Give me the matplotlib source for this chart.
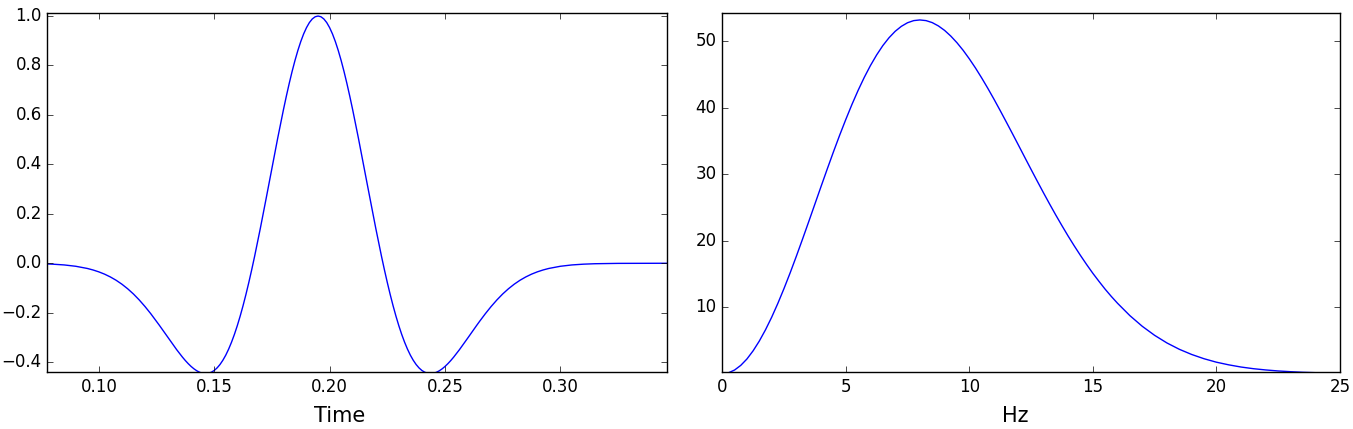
import matplotlib
matplotlib.use("Agg")
import matplotlib.pyplot as plt

plt.style.use("classic")

# wavelet amplitude against time (s)
time = [0.0777, 0.080, 0.085, 0.090, 0.095, 0.0975, 0.100, 0.1025, 0.105, 0.1075,
        0.110, 0.1125, 0.115, 0.1175, 0.120, 0.1225,
        0.12500, 0.12625, 0.12750, 0.12875, 0.13000, 0.13125, 0.13250, 0.13375,
        0.13500, 0.13625, 0.13750, 0.13875, 0.14000, 0.14125, 0.14250, 0.14375,
        0.14500, 0.14625, 0.14750, 0.14875, 0.15000, 0.15125, 0.15250, 0.15375,
        0.15500, 0.15625, 0.15750, 0.15875, 0.16000, 0.16125, 0.16250, 0.16375,
        0.16500, 0.16625, 0.16750, 0.16875, 0.17000, 0.17125, 0.17250, 0.17375,
        0.17500, 0.17625, 0.17750, 0.17875, 0.18000, 0.18125, 0.18250, 0.18375,
        0.18500, 0.18625, 0.18750, 0.18875, 0.19000, 0.19125, 0.19250, 0.19375,
        0.19500, 0.19625, 0.19750, 0.19875, 0.20000, 0.20125, 0.20250, 0.20375,
        0.20500, 0.20625, 0.20750, 0.20875, 0.21000, 0.21125, 0.21250, 0.21375,
        0.21500, 0.21625, 0.21750, 0.21875, 0.22000, 0.22125, 0.22250, 0.22375,
        0.22500, 0.22625, 0.22750, 0.22875, 0.23000, 0.23125, 0.23250, 0.23375,
        0.23500, 0.23625, 0.23750, 0.23875, 0.24000, 0.24125, 0.24250, 0.24375,
        0.24500, 0.24625, 0.24750, 0.24875, 0.25000, 0.25125, 0.25250, 0.25375,
        0.25500, 0.25625, 0.25750, 0.25875, 0.26000, 0.26125, 0.26250, 0.26375,
        0.26500,
        0.2675, 0.270, 0.2725, 0.275, 0.2775, 0.280, 0.2825, 0.285, 0.2875, 0.290,
        0.2925, 0.295, 0.300, 0.305, 0.310, 0.315, 0.325, 0.335, 0.3461]
amplitude = [-0.0028, -0.0037, -0.0068, -0.0122, -0.0210, -0.0272, -0.0348, -0.0441, -0.0554, -0.0688,
             -0.0847, -0.1032, -0.1243, -0.1483, -0.1749, -0.2039,
             -0.2350, -0.2511, -0.2675, -0.2841, -0.3008, -0.3173, -0.3336, -0.3497,
             -0.3651, -0.3798, -0.3936, -0.4062, -0.4175, -0.4272, -0.4352, -0.4412,
             -0.4450, -0.4463, -0.4449, -0.4408, -0.4337, -0.4233, -0.4096, -0.3924,
             -0.3718, -0.3474, -0.3194, -0.2878, -0.2526, -0.2138, -0.1716, -0.1261,
             -0.0776, -0.0262, 0.0277, 0.0838, 0.1418, 0.2013, 0.2618, 0.3229,
             0.3842, 0.4452, 0.5053, 0.5640, 0.6209, 0.6755, 0.7272, 0.7756,
             0.8202, 0.8606, 0.8965, 0.9275, 0.9532, 0.9736, 0.9882, 0.9970,
             1.0000, 0.9970, 0.9882, 0.9736, 0.9532, 0.9275, 0.8965, 0.8606,
             0.8202, 0.7756, 0.7272, 0.6755, 0.6209, 0.5640, 0.5053, 0.4452,
             0.3842, 0.3229, 0.2618, 0.2013, 0.1418, 0.0838, 0.0277, -0.0262,
             -0.0776, -0.1261, -0.1716, -0.2138, -0.2526, -0.2878, -0.3194, -0.3474,
             -0.3718, -0.3924, -0.4096, -0.4233, -0.4337, -0.4408, -0.4449, -0.4463,
             -0.4450, -0.4412, -0.4352, -0.4272, -0.4175, -0.4062, -0.3936, -0.3798,
             -0.3651, -0.3497, -0.3336, -0.3173, -0.3008, -0.2841, -0.2675, -0.2511,
             -0.2350,
             -0.2039, -0.1749, -0.1483, -0.1243, -0.1032, -0.0847, -0.0688, -0.0554, -0.0441, -0.0348,
             -0.0272, -0.0210, -0.0122, -0.0068, -0.0037, -0.0019, -0.0005, -0.0001, 0.0]

# amplitude spectrum (Hz)
freq = [0.0, 0.25, 0.5, 0.75, 1.0, 1.25, 1.5, 1.75, 2.0, 2.25, 2.5, 2.75,
        3.0, 3.25, 3.5, 3.75, 4.0, 4.25, 4.5, 4.75, 5.0, 5.25, 5.5, 5.75,
        6.0, 6.25, 6.5, 6.75, 7.0, 7.25, 7.5, 7.75, 8.0, 8.25, 8.5, 8.75,
        9.0, 9.25, 9.5, 9.75, 10.0, 10.25, 10.5, 10.75, 11.0, 11.25, 11.5, 11.75,
        12.0, 12.25, 12.5, 12.75, 13.0, 13.25, 13.5, 13.75, 14.0, 14.25, 14.5, 14.75,
        15.0, 15.25, 15.5, 15.75, 16.0,
        16.5, 17.0, 17.5, 18.0, 18.5, 19.0, 19.5, 20.0, 20.5,
        21.0, 21.5, 22.0, 22.5, 23.0, 23.5, 24.0, 24.5, 25.0]
spectrum = [0.0, 0.14, 0.56, 1.26, 2.22, 3.45, 4.91, 6.60, 8.49, 10.57, 12.81, 15.18,
            17.67, 20.24, 22.86, 25.51, 28.16, 30.78, 33.35, 35.84, 38.22, 40.49, 42.61, 44.57,
            46.35, 47.94, 49.34, 50.52, 51.49, 52.24, 52.78, 53.10, 53.20, 53.10, 52.80, 52.30,
            51.63, 50.78, 49.78, 48.64, 47.36, 45.98, 44.49, 42.92, 41.28, 39.58, 37.84, 36.08,
            34.30, 32.51, 30.73, 28.97, 27.23, 25.53, 23.87, 22.27, 20.71, 19.22, 17.79, 16.42,
            15.11, 13.89, 12.71, 11.62, 10.60,
            8.74, 7.14, 5.78, 4.63, 3.68, 2.90, 2.26, 1.74, 1.34,
            1.01, 0.76, 0.57, 0.42, 0.31, 0.22, 0.16, 0.11, 0.08]

fig = plt.figure(figsize=(13.53, 4.29), dpi=100, facecolor="white")
ax1 = fig.add_axes([0.0350, 0.1322, 0.4578, 0.8368])
ax2 = fig.add_axes([0.5338, 0.1322, 0.4565, 0.8368])

ax1.plot(time, amplitude, color="b", lw=1.0)
ax1.set_xlim(0.0777, 0.3461)
ax1.set_ylim(-0.441, 1.011)
ax1.set_xticks([0.10, 0.15, 0.20, 0.25, 0.30])
ax1.set_yticks([-0.4, -0.2, 0.0, 0.2, 0.4, 0.6, 0.8, 1.0])
ax1.set_xlabel("Time", fontsize=15, labelpad=7)
ax1.xaxis.label.set_x(0.472)

ax2.plot(freq, spectrum, color="b", lw=1.0)
ax2.set_xlim(0, 25)
ax2.set_ylim(0.22, 54.2)
ax2.set_xticks([0, 5, 10, 15, 20, 25])
ax2.set_yticks([10, 20, 30, 40, 50])
ax2.set_xlabel("Hz", fontsize=15, labelpad=7)
ax2.xaxis.label.set_x(0.475)

for ax in (ax1, ax2):
    ax.tick_params(labelsize=12)

fig.savefig("out.png", dpi=100, facecolor="white")
